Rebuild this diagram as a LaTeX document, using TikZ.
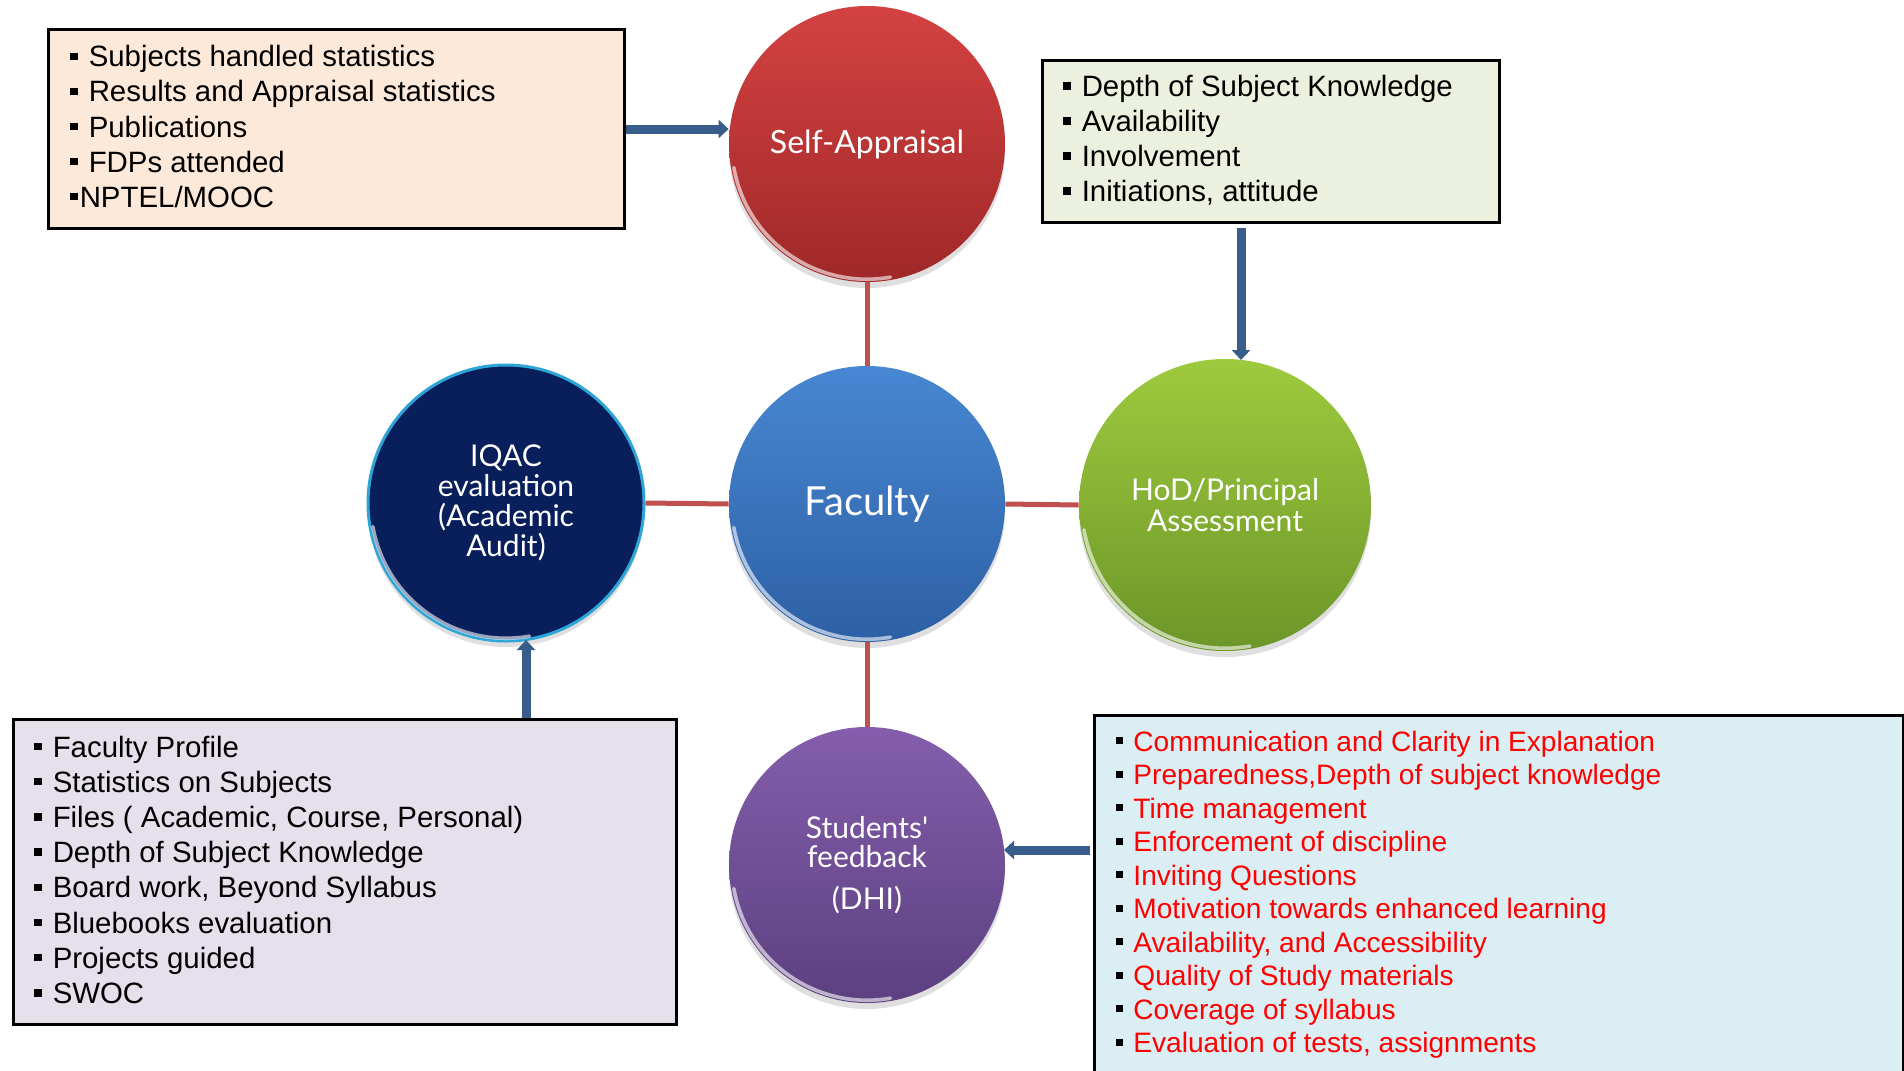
\documentclass[tikz,border=0pt]{standalone}
\usepackage{fontspec}
\setmainfont{Liberation Sans}
\newfontfamily\circfont{Lato}
\usetikzlibrary{arrows.meta,shadows,calc}
\definecolor{linkred}{RGB}{192,80,77}
\definecolor{arrowblue}{RGB}{56,93,138}
\definecolor{peach}{RGB}{253,233,217}
\definecolor{pale green}{RGB}{235,241,222}
\definecolor{lavender}{RGB}{229,224,236}
\definecolor{paleblue}{RGB}{219,238,244}
\newcommand{\sqb}{\rule[0.235em]{0.25em}{0.25em}}
\begin{document}
\begin{tikzpicture}[x=0.5pt,y=-0.5pt,
  bubble/.style={circle, minimum size=138pt, inner sep=0pt, text=white, align=center,
     drop shadow={opacity=0.25, shadow xshift=0pt, shadow yshift=-3pt}},
  listbox/.style={draw=black, line width=1.5pt, anchor=north west, inner sep=0pt},
  item/.style={anchor=base west, inner sep=0pt, font=\fontsize{14.7}{17}\selectfont},
  reditem/.style={anchor=base west, inner sep=0pt, font=\fontsize{14.05}{17}\selectfont},
  link/.style={draw=linkred, line width=2.5pt},
  feed/.style={draw=arrowblue, line width=4.5pt, -{Triangle[width=9pt,length=5pt]}},
  gloss/.style={white, opacity=0.6, line width=1.8pt, line cap=round}
]
\useasboundingbox (0,0) rectangle (1904,1070);
\fill[white] (0,0) rectangle (1904,1070);

% boxes
\node[listbox, fill=peach, minimum width=288pt, minimum height=99.5pt] (b1) at (47,28) {};
\node[listbox, fill=pale green, minimum width=228.5pt, minimum height=81pt] (b2) at (1041,59) {};
\node[listbox, fill=lavender, minimum width=331.5pt, minimum height=152.5pt] (b3) at (12,718) {};
\node[listbox, fill=paleblue, minimum width=404.5pt, minimum height=190pt] (b4) at (1093,714) {};

% box texts
\foreach \t [count=\i] in {Subjects handled statistics, Results and Appraisal statistics, Publications, FDPs attended}
  \node[item] (t1-\i) at (70,{67+35*(\i-1)}) {\sqb\hspace{5.5pt}\t};
\node[item] (t1-5) at (70,207) {\sqb\hspace{1pt}NPTEL/MOOC};

\foreach \t [count=\i] in {Depth of Subject Knowledge, Availability, Involvement, {Initiations, attitude}}
  \node[item] (t2-\i) at (1063,{96.7+35*(\i-1)}) {\sqb\hspace{5.5pt}\t};

\foreach \t [count=\i] in {Faculty Profile, Statistics on Subjects, {Files ( Academic, Course, Personal)}, Depth of Subject Knowledge, {Board work, Beyond Syllabus}, Bluebooks evaluation, Projects guided, SWOC}
  \node[item] (t3-\i) at (34,{757+35.2*(\i-1)}) {\sqb\hspace{5.5pt}\t};

\foreach \t [count=\i] in {Communication and Clarity in Explanation, {Preparedness,Depth of subject knowledge}, Time management, Enforcement of discipline, Inviting Questions, Motivation towards enhanced learning, {Availability, and Accessibility}, Quality of Study materials, Coverage of syllabus, {Evaluation of tests, assignments}}
  \node[reditem] (t4-\i) at (1116,{751+33.5*(\i-1)}) {\sqb\hspace{5pt}\textcolor{red}{\t}};

% circles
\node[bubble, top color={rgb,255:red,212;green,66;blue,66}, bottom color={rgb,255:red,160;green,40;blue,40},
      font=\circfont\fontsize{16}{18}\selectfont] (sa) at (867,144) {Self-Appraisal};
\node[bubble, top color={rgb,255:red,72;green,135;blue,210}, bottom color={rgb,255:red,45;green,96;blue,165},
      font=\circfont\fontsize{20}{22}\selectfont] (fac) at (867,504) {Faculty};
\node[bubble, fill={rgb,255:red,9;green,31;blue,92}, draw={rgb,255:red,45;green,165;blue,215}, line width=1.5pt,
      font=\circfont\fontsize{15}{14.9}\selectfont] (iqac) at (506,503) {IQAC\\evaluation\\(Academic\\Audit)};
\node[bubble, minimum size=146pt, top color={rgb,255:red,158;green,202;blue,62}, bottom color={rgb,255:red,108;green,150;blue,40},
      font=\circfont\fontsize{15}{15.2}\selectfont] (hod) at (1225,505) {HoD/Principal\\Assessment};
\node[bubble, top color={rgb,255:red,132;green,94;blue,172}, bottom color={rgb,255:red,92;green,64;blue,128},
      font=\circfont\fontsize{15}{14.5}\selectfont] (stu) at (867,865) {Students'\\feedback\\[6.5pt](DHI)};

% gloss rims
\foreach \c in {sa,fac,iqac,stu}
  \draw[gloss] (\c.center) ++(190:67.6pt) arc[start angle=190, end angle=280, radius=67.6pt];
\draw[gloss] (hod.center) ++(190:71.6pt) arc[start angle=190, end angle=280, radius=71.6pt];

% red links
\draw[link] (sa.south) -- (fac.north);
\draw[link] (fac.west) -- (iqac.east);
\draw[link] (fac.east) -- (hod.west);
\draw[link] (fac.south) -- (stu.north);

% blue arrows
\draw[feed] (b1.east) -- (b1.east -| sa.west);
\coordinate (a2) at (1241,228);
\draw[feed] (a2) -- ($(hod.center)+(16,-145)$);
\coordinate (a3) at (526,718);
\draw[feed] (a3) -- ($(iqac.center)+(20,137)$);
\coordinate (a4) at (1090,850);
\draw[feed] (a4) -- ($(stu.center)+(137,-15)$);
\end{tikzpicture}
\end{document}
